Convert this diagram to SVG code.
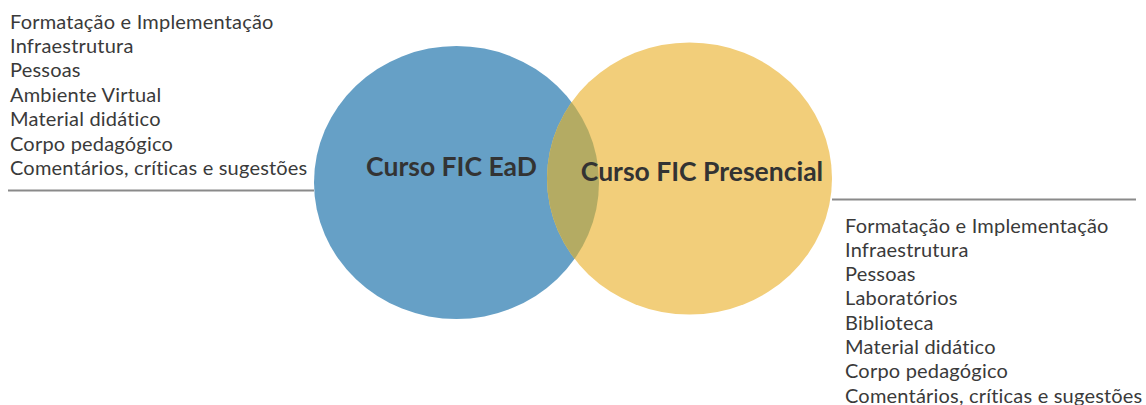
<svg xmlns="http://www.w3.org/2000/svg" width="1146" height="405" viewBox="0 0 1146 405">
<style>
.item{font-family:Lato,"Liberation Sans",sans-serif;font-size:20px;letter-spacing:0.2px;fill:#3a3a3a}
.title{font-family:Lato,"Liberation Sans",sans-serif;font-size:26.5px;font-weight:bold;fill:#333333;text-anchor:middle}
.rule{stroke:#8a8a8a;stroke-width:2;fill:none}
</style>
<defs>
<clipPath id="blueClip"><ellipse cx="456.5" cy="182.5" rx="142.5" ry="136.5"/></clipPath>
</defs>
<rect width="1146" height="405" fill="#ffffff"/>
<g id="connectors">
<line class="rule" x1="8" y1="190.5" x2="314" y2="190.5"/>
<line class="rule" x1="832" y1="199.5" x2="1136" y2="199.5"/>
</g>
<g id="ead">
<ellipse cx="456.5" cy="182.5" rx="142.5" ry="136.5" fill="#66a0c6"/>
</g>
<g id="presencial">
<ellipse cx="689.5" cy="178.5" rx="142.5" ry="136" fill="#f2ce7a"/>
</g>
<g id="overlap">
<ellipse cx="689.5" cy="178.5" rx="142.5" ry="136" fill="#b4ab63" clip-path="url(#blueClip)"/>
</g>
<g id="ead-label"><text class="title" x="451.5" y="175.5">Curso FIC EaD</text></g>
<g id="presencial-label"><text class="title" x="702" y="180.5">Curso FIC Presencial</text></g>
<g id="ead-list">
<text class="item" x="10" y="28.5">Formatação e Implementação</text>
<text class="item" x="10" y="52.9">Infraestrutura</text>
<text class="item" x="10" y="77.3">Pessoas</text>
<text class="item" x="10" y="101.7">Ambiente Virtual</text>
<text class="item" x="10" y="126.1">Material didático</text>
<text class="item" x="10" y="150.5">Corpo pedagógico</text>
<text class="item" x="10" y="174.9">Comentários, críticas e sugestões</text>
</g>
<g id="presencial-list">
<text class="item" x="845" y="232.5">Formatação e Implementação</text>
<text class="item" x="845" y="256.8">Infraestrutura</text>
<text class="item" x="845" y="281.1">Pessoas</text>
<text class="item" x="845" y="305.4">Laboratórios</text>
<text class="item" x="845" y="329.7">Biblioteca</text>
<text class="item" x="845" y="354">Material didático</text>
<text class="item" x="845" y="378.3">Corpo pedagógico</text>
<text class="item" x="845" y="402.6">Comentários, críticas e sugestões</text>
</g>
</svg>
